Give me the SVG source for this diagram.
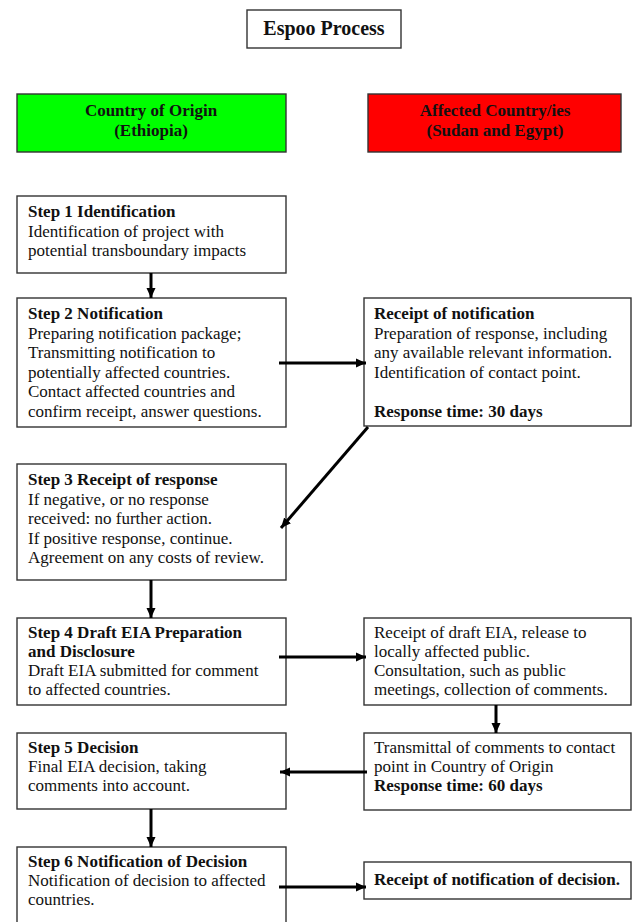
<svg xmlns="http://www.w3.org/2000/svg" width="633" height="922" viewBox="0 0 633 922">
<style>
.box{fill:#fff;stroke:#333;stroke-width:1.4}
.t{font-family:"Liberation Serif","Times New Roman",serif;font-size:17px;fill:#111}
.b{font-weight:bold}
.c{text-anchor:middle}
.con{stroke:#000;stroke-width:3;fill:none}
</style>
<defs>
<marker id="ah" markerUnits="userSpaceOnUse" markerWidth="10" markerHeight="10" viewBox="0 0 10 10" refX="10" refY="5" orient="auto">
<path d="M0,0.5 L10,5 L0,9.5 Z" fill="#000"/>
</marker>
</defs>
<rect width="633" height="922" fill="#fff"/>
<g id="title">
<rect class="box" x="247" y="10" width="154" height="38"/>
<text class="t b c" x="324" y="35" style="font-size:20px">Espoo Process</text>
</g>
<g id="origin">
<rect x="17" y="94" width="269" height="58" fill="#00ff00" stroke="#333" stroke-width="1.4"/>
<text class="t b c" x="151" y="116">Country of Origin</text>
<text class="t b c" x="151" y="136">(Ethiopia)</text>
</g>
<g id="affected">
<rect x="368" y="94" width="253" height="58" fill="#ff0000" stroke="#333" stroke-width="1.4"/>
<text class="t b c" x="495" y="116">Affected Country/ies</text>
<text class="t b c" x="495" y="136">(Sudan and Egypt)</text>
</g>
<g id="step1">
<rect class="box" x="17" y="196" width="269" height="77"/>
<text class="t b" x="28" y="217">Step 1 Identification</text>
<text class="t" x="28" y="236.5">Identification of project with</text>
<text class="t" x="28" y="256">potential transboundary impacts</text>
</g>
<g id="step2">
<rect class="box" x="17" y="298" width="269" height="129"/>
<text class="t b" x="28" y="319">Step 2 Notification</text>
<text class="t" x="28" y="338.5">Preparing notification package;</text>
<text class="t" x="28" y="358">Transmitting notification to</text>
<text class="t" x="28" y="377.5">potentially affected countries.</text>
<text class="t" x="28" y="397">Contact affected countries and</text>
<text class="t" x="28" y="416.5">confirm receipt, answer questions.</text>
</g>
<g id="receipt">
<rect class="box" x="364" y="298" width="267" height="128"/>
<text class="t b" x="374" y="319">Receipt of notification</text>
<text class="t" x="374" y="338.5">Preparation of response, including</text>
<text class="t" x="374" y="358">any available relevant information.</text>
<text class="t" x="374" y="377.5">Identification of contact point.</text>
<text class="t b" x="374" y="416.5">Response time: 30 days</text>
</g>
<g id="step3">
<rect class="box" x="17" y="464" width="269" height="116"/>
<text class="t b" x="28" y="485">Step 3 Receipt of response</text>
<text class="t" x="28" y="504.5">If negative, or no response</text>
<text class="t" x="28" y="524">received: no further action.</text>
<text class="t" x="28" y="543.5">If positive response, continue.</text>
<text class="t" x="28" y="563">Agreement on any costs of review.</text>
</g>
<g id="step4">
<rect class="box" x="17" y="618" width="269" height="87"/>
<text class="t b" x="28" y="638">Step 4 Draft EIA Preparation</text>
<text class="t b" x="28" y="657">and Disclosure</text>
<text class="t" x="28" y="676">Draft EIA submitted for comment</text>
<text class="t" x="28" y="695">to affected countries.</text>
</g>
<g id="draftReceipt">
<rect class="box" x="364" y="618" width="267" height="87"/>
<text class="t" x="374" y="638">Receipt of draft EIA, release to</text>
<text class="t" x="374" y="657">locally affected public.</text>
<text class="t" x="374" y="676">Consultation, such as public</text>
<text class="t" x="374" y="695">meetings, collection of comments.</text>
</g>
<g id="step5">
<rect class="box" x="17" y="733" width="269" height="76"/>
<text class="t b" x="28" y="753">Step 5 Decision</text>
<text class="t" x="28" y="772">Final EIA decision, taking</text>
<text class="t" x="28" y="791">comments into account.</text>
</g>
<g id="transmittal">
<rect class="box" x="364" y="733" width="267" height="77"/>
<text class="t" x="374" y="753">Transmittal of comments to contact</text>
<text class="t" x="374" y="772">point in Country of Origin</text>
<text class="t b" x="374" y="791">Response time: 60 days</text>
</g>
<g id="step6">
<rect class="box" x="17" y="847" width="269" height="80"/>
<text class="t b" x="28" y="867">Step 6 Notification of Decision</text>
<text class="t" x="28" y="886">Notification of decision to affected</text>
<text class="t" x="28" y="905">countries.</text>
</g>
<g id="decisionReceipt">
<rect class="box" x="364" y="862" width="267" height="37"/>
<text class="t b" x="374" y="885">Receipt of notification of decision.</text>
</g>
<g id="connectors">
<line class="con" x1="151" y1="273" x2="151" y2="298" marker-end="url(#ah)"/>
<line class="con" x1="279" y1="363" x2="366" y2="363" marker-end="url(#ah)"/>
<line class="con" x1="368" y1="427" x2="281" y2="528" marker-end="url(#ah)"/>
<line class="con" x1="151" y1="580" x2="151" y2="618" marker-end="url(#ah)"/>
<line class="con" x1="279" y1="657" x2="366" y2="657" marker-end="url(#ah)"/>
<line class="con" x1="496" y1="705" x2="496" y2="733" marker-end="url(#ah)"/>
<line class="con" x1="367" y1="772" x2="280" y2="772" marker-end="url(#ah)"/>
<line class="con" x1="151" y1="809" x2="151" y2="847" marker-end="url(#ah)"/>
<line class="con" x1="279" y1="887" x2="366" y2="887" marker-end="url(#ah)"/>
</g>
</svg>
